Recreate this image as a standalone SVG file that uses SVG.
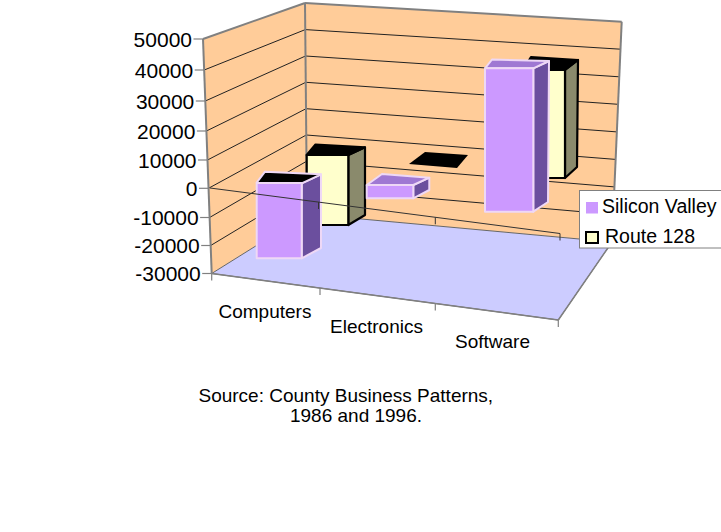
<svg xmlns="http://www.w3.org/2000/svg" width="721" height="532" viewBox="0 0 721 532">
<style>
text{font-family:"Liberation Sans",Arial,sans-serif;fill:#000}
.ax{font-size:21px;text-anchor:end}
.cat{font-size:19px}
.leg{font-size:19.5px}
.edge{stroke:#808080;stroke-width:2;fill:none}
.grid{stroke:#222;stroke-width:1;fill:none}
.tick{stroke:#808080;stroke-width:1.2;fill:none}
.sv{stroke:#EED8F6;stroke-width:2;stroke-linejoin:round}
.rt{stroke:#000;stroke-width:2.2;stroke-linejoin:round}
</style>
<rect width="721" height="532" fill="#fff"/>
<g id="walls">
<polygon points="203,39 305,3 307,214 211.7,273.5" fill="#FFCC99"/>
<polygon points="305,3 621.7,21.7 612,242 307,214" fill="#FFCC99"/>
</g>
<g id="gridlines" class="grid">
<line x1="204.2" y1="70" x2="305.3" y2="29.6"/>
<line x1="205.3" y1="101" x2="305.5" y2="56"/>
<line x1="206.4" y1="131" x2="305.8" y2="82.3"/>
<line x1="207.5" y1="160" x2="306" y2="108.7"/>
<line x1="208.5" y1="188.3" x2="306.3" y2="135"/>
<line x1="209.6" y1="217.5" x2="306.5" y2="161.3"/>
<line x1="210.7" y1="245.5" x2="306.8" y2="187.7"/>
<line x1="305.3" y1="29.6" x2="620.5" y2="49.2"/>
<line x1="305.5" y1="56" x2="619.3" y2="76.8"/>
<line x1="305.8" y1="82.3" x2="618.1" y2="104.3"/>
<line x1="306" y1="108.7" x2="616.9" y2="131.9"/>
<line x1="306.3" y1="135" x2="615.6" y2="159.4"/>
<line x1="306.5" y1="161.3" x2="614.4" y2="186.9"/>
<line x1="306.8" y1="187.7" x2="613.2" y2="214.5"/>
</g>
<g id="floor">
<polygon points="211.7,273.5 307,214 612,242 558.3,320" fill="#CCCCFF" stroke="#666" stroke-width="1"/>
<line x1="211.7" y1="273.5" x2="558.3" y2="320" stroke="#808080" stroke-width="1.5"/>
<line x1="558.3" y1="320" x2="612" y2="242" stroke="#808080" stroke-width="1.5"/>
</g>
<g id="wall-edges">
<line class="edge" x1="203" y1="39" x2="305" y2="3" stroke-width="2.5"/>
<line class="edge" x1="305" y1="3" x2="621.7" y2="21.7" stroke-width="1.5"/>
<line class="edge" x1="621.7" y1="21.7" x2="612" y2="242" stroke-width="1.5"/>
<line class="edge" x1="305" y1="3" x2="307" y2="214"/>
<line class="edge" x1="203" y1="39" x2="211.7" y2="273.5"/>
</g>
<g id="value-axis">
<g class="tick">
<line x1="193.5" y1="39" x2="203" y2="39"/>
<line x1="194.7" y1="70" x2="204.2" y2="70"/>
<line x1="195.8" y1="101" x2="205.3" y2="101"/>
<line x1="196.9" y1="131" x2="206.4" y2="131"/>
<line x1="198" y1="160" x2="207.5" y2="160"/>
<line x1="199" y1="188.3" x2="208.5" y2="188.3"/>
<line x1="200.1" y1="217.5" x2="209.6" y2="217.5"/>
<line x1="201.2" y1="245.5" x2="210.7" y2="245.5"/>
<line x1="202.2" y1="273.5" x2="211.7" y2="273.5"/>
</g>
<text class="ax" x="192" y="46.5">50000</text>
<text class="ax" x="193.2" y="77.5">40000</text>
<text class="ax" x="194.3" y="108.5">30000</text>
<text class="ax" x="195.4" y="138.5">20000</text>
<text class="ax" x="196.5" y="167.5">10000</text>
<text class="ax" x="197.5" y="195.8">0</text>
<text class="ax" x="198.6" y="225">-10000</text>
<text class="ax" x="199.7" y="253">-20000</text>
<text class="ax" x="200.7" y="281">-30000</text>
</g>
<g id="category-axis">
<g class="tick">
<line x1="211.7" y1="273.5" x2="211.7" y2="280.5"/>
<line x1="320" y1="288" x2="320" y2="295"/>
<line x1="435.3" y1="303.5" x2="435.3" y2="310.5"/>
<line x1="558.3" y1="320" x2="558.3" y2="327"/>
</g>
<text class="cat" x="218.5" y="317.5">Computers</text>
<text class="cat" x="330" y="333">Electronics</text>
<text class="cat" x="455" y="348">Software</text>
</g>
<g id="route128-bars">
<g id="r128-electronics">
<polygon points="409,164 425,152 468,155 457,168" fill="#000"/>
</g>
<g id="r128-computers" class="rt">
<polygon points="348.3,155 365,147.3 365,215 348.3,225" fill="#8A8A6C"/>
<polygon points="306.7,155 348.3,155 365,147.3 315.5,144.5" fill="#000"/>
<rect x="306.7" y="155" width="41.6" height="70" fill="#FFFFCC"/>
</g>
<g id="r128-software" class="rt">
<polygon points="565,70 578,60 577,167 565,178" fill="#8A8A6C"/>
<polygon points="523,70 565,70 578,60 531,57" fill="#000"/>
<rect x="523" y="70" width="42" height="108" fill="#FFFFCC"/>
</g>
</g>
<g id="silicon-valley-bars">
<g id="sv-computers" class="sv">
<polygon points="301.7,183.3 321,174.3 321,248 301.7,258.3" fill="#6B4F9E"/>
<polygon points="256.7,182.7 301.7,183.3 321,174.3 265,171.7" fill="#000"/>
<rect x="256.7" y="183" width="45" height="75.3" fill="#CC99FF"/>
</g>
<g id="sv-electronics" class="sv">
<polygon points="413.3,185 429.3,177.7 429.3,190 413.3,198.3" fill="#6B4F9E"/>
<polygon points="366.7,185 413.3,185 429.3,177.7 382,174" fill="#9F78D3"/>
<rect x="366.7" y="185" width="46.6" height="13.3" fill="#CC99FF"/>
</g>
<g id="sv-software" class="sv">
<polygon points="533.3,68.3 549,61 548,202 533.3,211.7" fill="#6B4F9E"/>
<polygon points="485,68.3 533.3,68.3 549,61 492,59.5" fill="#9F78D3"/>
<rect x="485" y="68.3" width="48.3" height="143.4" fill="#CC99FF"/>
</g>
</g>
<g id="zero-axis">
<line x1="210" y1="188" x2="560" y2="233.5" stroke="#333" stroke-width="1"/>
<g stroke="#333" stroke-width="1">
<line x1="318.5" y1="202" x2="318.5" y2="209"/>
<line x1="435.3" y1="217.3" x2="435.3" y2="224.3"/>
<line x1="560" y1="233.5" x2="560" y2="240.5"/>
</g>
</g>
<g id="legend">
<rect x="579.5" y="190.5" width="150" height="57.5" fill="#fff" stroke="#808080" stroke-width="1"/>
<rect x="586" y="202" width="12" height="11.5" fill="#CC99FF"/>
<text class="leg" x="602" y="213.3">Silicon Valley</text>
<rect x="586" y="232" width="12" height="11" fill="#FFFFCC" stroke="#000" stroke-width="2"/>
<text class="leg" x="605" y="243.3">Route 128</text>
</g>
<g id="source">
<text class="cat" x="345.8" y="401.8" text-anchor="middle">Source: County Business Patterns,</text>
<text class="cat" x="356" y="422" text-anchor="middle">1986 and 1996.</text>
</g>
</svg>
